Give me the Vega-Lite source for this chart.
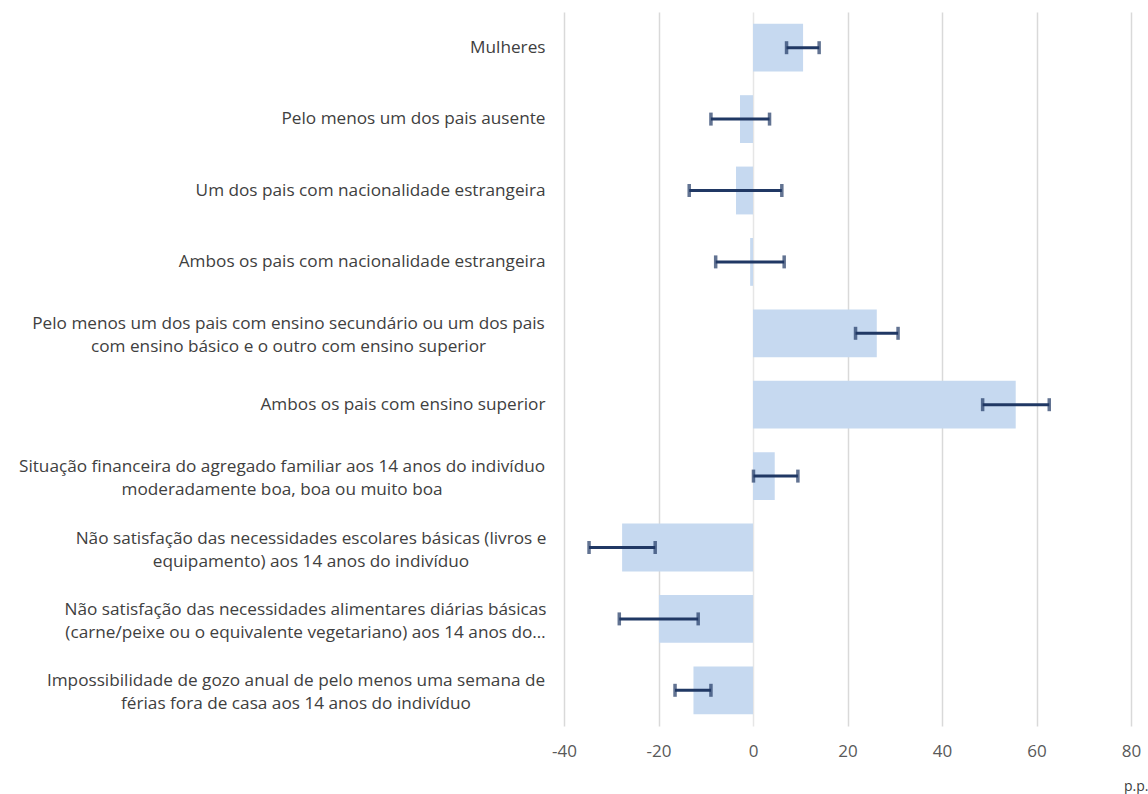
{
  "$schema": "https://vega.github.io/schema/vega-lite/v6.json",
  "width": 567,
  "height": 714,
  "autosize": {"type": "none"},
  "padding": {"left": 564, "top": 12, "right": 17, "bottom": 68},
  "background": "#ffffff",
  "config": {
    "view": {"stroke": null},
    "font": "Open Sans",
    "axis": {"labelFont": "Open Sans", "titleFont": "Open Sans"}
  },
  "data": {
    "values": [
      {"fator": "Mulheres", "efeito": 10.6, "inf": 7.1, "sup": 14.0},
      {"fator": "Pelo menos um dos pais ausente", "efeito": -2.75, "inf": -8.9, "sup": 3.5},
      {"fator": "Um dos pais com nacionalidade estrangeira", "efeito": -3.6, "inf": -13.5, "sup": 6.1},
      {"fator": "Ambos os pais com nacionalidade estrangeira", "efeito": -0.6, "inf": -7.9, "sup": 6.6},
      {"fator": "Pelo menos um dos pais com ensino secundário ou um dos pais|com ensino básico e o outro com ensino superior", "efeito": 26.2, "inf": 21.7, "sup": 30.7},
      {"fator": "Ambos os pais com ensino superior", "efeito": 55.6, "inf": 48.6, "sup": 62.7},
      {"fator": "Situação financeira do agregado familiar aos 14 anos do indivíduo|moderadamente boa, boa ou muito boa", "efeito": 4.6, "inf": 0.1, "sup": 9.5},
      {"fator": "Não satisfação das necessidades escolares básicas (livros e|equipamento) aos 14 anos do indivíduo", "efeito": -27.7, "inf": -34.7, "sup": -20.7},
      {"fator": "Não satisfação das necessidades alimentares diárias básicas|(carne/peixe ou o equivalente vegetariano) aos 14 anos do…", "efeito": -19.9, "inf": -28.3, "sup": -11.6},
      {"fator": "Impossibilidade de gozo anual de pelo menos uma semana de|férias fora de casa aos 14 anos do indivíduo", "efeito": -12.6, "inf": -16.5, "sup": -8.9}
    ]
  },
  "encoding": {
    "y": {
      "field": "fator",
      "type": "nominal",
      "sort": null,
      "title": null,
      "scale": {"paddingInner": 0.33, "paddingOuter": 0.165},
      "axis": {
        "domain": false,
        "ticks": false,
        "grid": false,
        "labelFontSize": 17.2,
        "labelColor": "#404040",
        "labelLimit": 0,
        "labelLineHeight": 23,
        "labelExpr": "split(datum.label, '|')",
        "labelAlign": {"condition": {"test": "indexof(datum.value, '|') >= 0", "value": "center"}, "value": "right"},
        "labelOffset": {"condition": {"test": "indexof(datum.value, '|') >= 0", "value": -9}, "value": 0},
        "labelPadding": {
          "condition": [
            {"test": "indexof(datum.value, 'secundário') >= 0", "value": 276},
            {"test": "indexof(datum.value, 'financeira') >= 0", "value": 282.5},
            {"test": "indexof(datum.value, 'escolares') >= 0", "value": 253.5},
            {"test": "indexof(datum.value, 'alimentares') >= 0", "value": 259},
            {"test": "indexof(datum.value, 'Impossibilidade') >= 0", "value": 268.5}
          ],
          "value": 19
        }
      }
    }
  },
  "layer": [
    {
      "mark": {"type": "bar", "color": "#c6d9f0"},
      "encoding": {
        "x": {
          "field": "efeito",
          "type": "quantitative",
          "scale": {"domain": [-40, 80], "nice": false},
          "axis": {
            "values": [-40, -20, 0, 20, 40, 60, 80],
            "labelExpr": "toString(datum.value)",
            "labelFlush": false,
            "labelOverlap": false,
            "domain": false,
            "ticks": false,
            "grid": true,
            "gridColor": {"condition": {"test": "datum.value === 0", "value": "#e6e6e6"}, "value": "#d9d9d9"},
            "gridWidth": 1.5,
            "labelFontSize": 17,
            "labelColor": "#595959",
            "labelPadding": 17,
            "title": "p.p.",
            "titleFontSize": 14,
            "titleFontWeight": "normal",
            "titleColor": "#404040",
            "titleAlign": "right",
            "titleBaseline": "middle",
            "titleX": 584,
            "titleY": 60
          }
        }
      }
    },
    {
      "mark": {"type": "rule", "color": "#203864", "strokeWidth": 3},
      "encoding": {
        "x": {"field": "inf", "type": "quantitative"},
        "x2": {"field": "sup"}
      }
    },
    {
      "mark": {"type": "tick", "color": "#203864", "thickness": 3.5, "size": 13},
      "encoding": {"x": {"field": "inf", "type": "quantitative"}}
    },
    {
      "mark": {"type": "tick", "color": "#203864", "thickness": 3.5, "size": 13},
      "encoding": {"x": {"field": "sup", "type": "quantitative"}}
    }
  ]
}
